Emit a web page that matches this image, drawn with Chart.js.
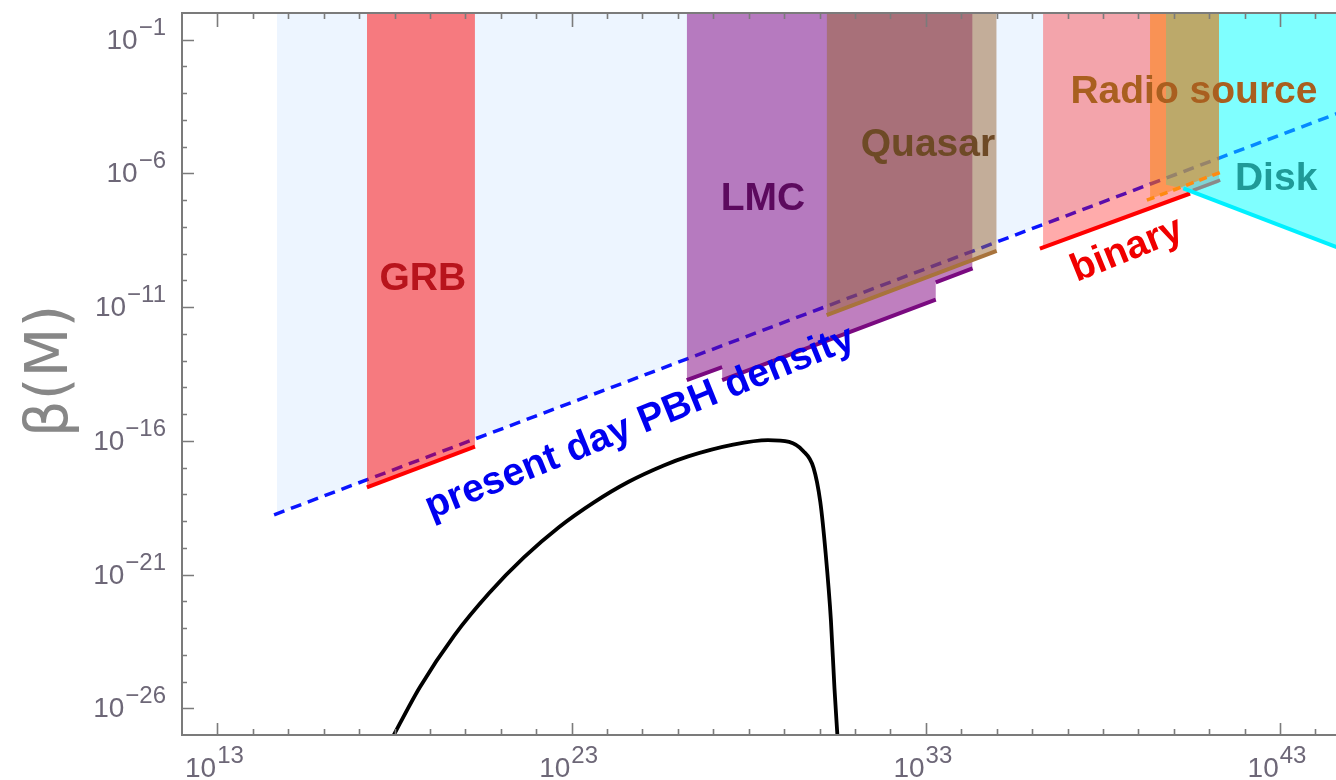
<!DOCTYPE html>
<html>
<head>
<meta charset="utf-8">
<script src="https://cdn.jsdelivr.net/npm/chart.js@4.4.1/dist/chart.umd.min.js"></script>
<style>
  html, body { margin: 0; padding: 0; background: #ffffff; }
  #wrap { width: 1336px; height: 780px; position: relative; }
</style>
</head>
<body>
<div id="wrap"><canvas id="c" width="1336" height="780"></canvas></div>
<script>
// ---- axis ranges and ticks (log10 of PBH mass M, log10 of beta) ----
const massRangeLog = [12, 44.58];
const betaRangeLog = [-27, 0];
const massTickLabels = [13, 23, 33, 43];
const betaTickLabels = [-1, -6, -11, -16, -21, -26];

// ---- present-day PBH density bound (dashed) and its shaded side ----
const densityLineLogM = [14.6, 46];
const densityLineLogBeta = [-18.765, -3.065];
const densityFillLogM = [14.68, 41.28];
const densityFillLogBeta = [-18.725, -5.425];

// ---- GRB ----
const grbLogM = [17.22, 20.27];
const grbLogBeta = [-17.74, -16.22];

// ---- LMC (stepped lower edge) ----
const lmcLogM = [26.25, 27.25, 27.25, 33.28, 33.28, 34.32];
const lmcLogBeta = [-13.73, -13.24, -13.73, -10.72, -10.07, -9.55];

// ---- Quasar ----
const quasarLogM = [30.20, 35.0];
const quasarLogBeta = [-11.30, -8.90];

// ---- binary ----
const binaryLogM = [36.31, 41.28];
const binaryLogBeta = [-8.766, -6.35];
const binaryEdgeLogM = [36.22, 40.46];
const binaryEdgeLogBeta = [-8.81, -6.75];

// ---- Radio source ----
const radioLogM = [39.33, 41.28];
const radioLogBeta = [-6.955, -5.98];
const radioEdgeLogM = [39.24, 41.31];
const radioEdgeLogBeta = [-7.0, -5.96];

// ---- Disk ----
const diskLogM = [39.78, 40.27, 46];
const diskLogBeta = [-6.42, -6.56, -9.47];
const diskEdgeLogM = [40.27, 46];
const diskEdgeLogBeta = [-6.56, -9.47];
const diskInnerLogM = [40.54, 41.31];
const diskInnerLogBeta = [-6.63, -6.25];

// ---- predicted beta(M) curve ----
const curveLogM = [17.80, 17.92, 18.71, 19.69, 20.68, 21.66, 22.64, 23.63, 24.61, 25.60, 26.29,
                   27.56, 28.54, 29.14, 29.53, 29.83, 30.02, 30.17, 30.32, 30.42, 30.51, 30.53];
const curveLogBeta = [-27.45, -27.15, -25.22, -23.27, -21.68, -20.35, -19.23, -18.30, -17.53, -16.92, -16.58,
                      -16.14, -15.97, -16.04, -16.37, -17.01, -18.28, -20.18, -22.70, -25.24, -27.15, -27.6];

// ---- region labels: text, log10 M, log10 beta, colour, rotation (deg) ----
const regionLabels = [
  { text: 'GRB', m: 18.80, b: -9.96, color: '#b8141c', rot: 0 },
  { text: 'LMC', m: 28.40, b: -6.96, color: '#5c0a5e', rot: 0 },
  { text: 'Quasar', m: 33.06, b: -4.95, color: '#6e4a26', rot: 0 },
  { text: 'Radio source', m: 40.57, b: -2.96, color: '#a95f1f', rot: 0 },
  { text: 'Disk', m: 42.89, b: -6.22, color: '#1f9a98', rot: 0 },
  { text: 'binary', m: 38.68, b: -8.87, color: '#f00000', rot: -22 },
  { text: 'present day PBH density', m: 24.93, b: -15.34, color: '#0000f0', rot: -22 }
];

const pts = (lm, lb) => lm.map((m, i) => ({ x: Math.pow(10, m), y: Math.pow(10, lb[i]) }));

// LMC edge: separate segments, no vertical risers
function steppedSegments(lm, lb) {
  const out = [];
  for (let i = 0; i < lm.length; i++) {
    if (i > 0 && lm[i] === lm[i - 1]) out.push({ x: Math.pow(10, lm[i]), y: null });
    out.push({ x: Math.pow(10, lm[i]), y: Math.pow(10, lb[i]) });
  }
  return out;
}

function fillSet(lm, lb, color, z) {
  return { data: pts(lm, lb), fill: 'end', backgroundColor: color, borderColor: 'transparent',
           borderWidth: 0, pointRadius: 0, order: -z, clip: 0 };
}
function edgeSet(data, color, width, z, dash) {
  return { data, fill: false, borderColor: color, borderWidth: width, borderDash: dash || [],
           pointRadius: 0, order: -z, clip: 0, spanGaps: false, borderCapStyle: 'butt' };
}

const datasets = [
  fillSet(densityFillLogM, densityFillLogBeta, 'rgb(237,245,255)', 1),
  edgeSet(pts(densityLineLogM, densityLineLogBeta), '#0a14ff', 3.5, 2, [11, 7]),
  fillSet(grbLogM, grbLogBeta, 'rgba(255,0,0,0.5)', 3),
  fillSet(lmcLogM, lmcLogBeta, 'rgba(128,0,128,0.5)', 4),
  fillSet(quasarLogM, quasarLogBeta, 'rgba(153,102,51,0.5)', 5),
  fillSet(binaryLogM, binaryLogBeta, 'rgba(255,0,0,0.33)', 6),
  fillSet(diskLogM, diskLogBeta, 'rgba(0,255,255,0.5)', 7),
  fillSet(radioLogM, radioLogBeta, 'rgba(255,128,0,0.5)', 8),
  edgeSet(pts(grbLogM, grbLogBeta), '#ff0000', 4, 10),
  edgeSet(steppedSegments(lmcLogM, lmcLogBeta), '#7a0a80', 4, 10),
  edgeSet(pts(quasarLogM, quasarLogBeta), '#a8733c', 4, 11),
  edgeSet(pts(binaryEdgeLogM, binaryEdgeLogBeta), '#ff0000', 4, 10),
  edgeSet(pts(radioEdgeLogM, radioEdgeLogBeta), '#ff8a10', 3.5, 12, [8, 6]),
  edgeSet(pts(diskEdgeLogM, diskEdgeLogBeta), '#00f0ff', 4, 12),
  edgeSet(pts(diskInnerLogM, diskInnerLogBeta), '#8a8a8a', 3.5, 12),
  Object.assign(edgeSet(pts(curveLogM, curveLogBeta), '#000000', 3.8, 20),
                { cubicInterpolationMode: 'monotone', borderJoinStyle: 'round' })
];

const TICK_FONT = '"Liberation Sans", Arial, sans-serif';
const TICK_COLOR = '#6d6777';

function powerLabel(ctx, exp, x, baseY, align) {
  const supTxt = String(exp).replace('-', '\u2212');
  ctx.font = '28px ' + TICK_FONT;
  const wb = ctx.measureText('10').width;
  ctx.font = '24px ' + TICK_FONT;
  const ws = ctx.measureText(supTxt).width;
  const total = wb + ws + 1;
  const x0 = align === 'right' ? x - total : x - total / 2;
  ctx.fillStyle = TICK_COLOR;
  ctx.textAlign = 'left';
  ctx.textBaseline = 'alphabetic';
  ctx.font = '28px ' + TICK_FONT;
  ctx.fillText('10', x0, baseY);
  ctx.font = '24px ' + TICK_FONT;
  ctx.fillText(supTxt, x0 + wb + 1, baseY - 14);
}

const framePlugin = {
  id: 'frameAndLabels',
  afterDatasetsDraw(chart) {
    const { ctx, chartArea: a, scales } = chart;
    const xs = scales.x, ys = scales.y;
    ctx.save();

    // frame
    ctx.strokeStyle = '#7b7b7b';
    ctx.lineWidth = 2;
    ctx.beginPath();
    ctx.moveTo(a.right + 2, a.top);
    ctx.lineTo(a.left, a.top);
    ctx.lineTo(a.left, a.bottom);
    ctx.lineTo(a.right + 2, a.bottom);
    ctx.stroke();

    // mass ticks (bottom and top, pointing inward)
    ctx.lineWidth = 1.6;
    ctx.beginPath();
    for (let e = Math.ceil(massRangeLog[0]); e <= Math.floor(massRangeLog[1]); e++) {
      if (e === massRangeLog[0]) continue;
      const px = Math.round(xs.getPixelForValue(Math.pow(10, e))) + 0.5;
      const major = massTickLabels.includes(e);
      const len = major ? 12 : 6;
      ctx.moveTo(px, a.bottom); ctx.lineTo(px, a.bottom - len);
      ctx.moveTo(px, a.top); ctx.lineTo(px, a.top + (major ? 14 : 6));
    }
    // beta ticks (left)
    for (let e = betaRangeLog[0] + 1; e < betaRangeLog[1]; e++) {
      const py = Math.round(ys.getPixelForValue(Math.pow(10, e))) + 0.5;
      const len = betaTickLabels.includes(e) ? 12 : 5;
      ctx.moveTo(a.left, py); ctx.lineTo(a.left + len, py);
    }
    ctx.stroke();

    // tick labels
    massTickLabels.forEach(e => {
      const px = xs.getPixelForValue(Math.pow(10, e));
      powerLabel(ctx, e, px - 3, 777, 'center');
    });
    betaTickLabels.forEach(e => {
      const py = ys.getPixelForValue(Math.pow(10, e));
      powerLabel(ctx, e, 166, py + 9, 'right');
    });

    // vertical axis title
    ctx.save();
    ctx.translate(52, 371);
    ctx.rotate(-Math.PI / 2);
    ctx.fillStyle = '#878787';
    ctx.font = '58px "DejaVu Sans", sans-serif';
    ctx.textAlign = 'center';
    ctx.textBaseline = 'middle';
    ctx.fillText('\u03B2(M)', 0, 0);
    ctx.restore();

    // region labels
    regionLabels.forEach(l => {
      const px = xs.getPixelForValue(Math.pow(10, l.m));
      const py = ys.getPixelForValue(Math.pow(10, l.b));
      ctx.save();
      ctx.translate(px, py);
      ctx.rotate(l.rot * Math.PI / 180);
      ctx.fillStyle = l.color;
      ctx.font = 'bold 39px "Liberation Sans", Arial, sans-serif';
      ctx.textAlign = 'center';
      ctx.textBaseline = 'middle';
      ctx.fillText(l.text, 0, 0);
      ctx.restore();
    });

    ctx.restore();
  }
};

new Chart(document.getElementById('c'), {
  type: 'line',
  data: { datasets },
  plugins: [framePlugin],
  options: {
    responsive: false,
    animation: false,
    devicePixelRatio: 1,
    events: [],
    layout: { padding: { left: 182, top: 13, right: 0, bottom: 45 } },
    plugins: { legend: { display: false }, tooltip: { enabled: false } },
    elements: { point: { radius: 0 } },
    scales: {
      x: { type: 'logarithmic', display: false,
           min: Math.pow(10, massRangeLog[0]), max: Math.pow(10, massRangeLog[1]) },
      y: { type: 'logarithmic', display: false,
           min: Math.pow(10, betaRangeLog[0]), max: Math.pow(10, betaRangeLog[1]) }
    }
  }
});
</script>
</body>
</html>
